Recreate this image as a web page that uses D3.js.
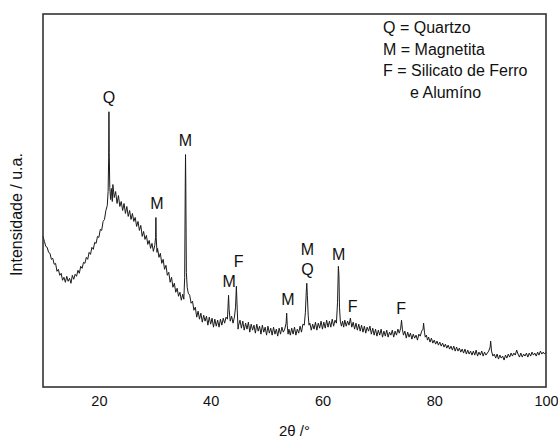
<!DOCTYPE html>
<html>
<head>
<meta charset="utf-8">
<script src="https://cdn.jsdelivr.net/npm/d3@7"></script>
<style>
  body { margin: 0; background: #fff; }
  text { font-family: "Liberation Sans", Arial, sans-serif; fill: #111; }
</style>
</head>
<body>
<div id="chart-area"></div>
<script>
// diffractogram: [2theta, intensity (a.u.)]
const scan = [
  [10.00, 151], [10.25, 146], [10.50, 141], [10.75, 140], [11.00, 135], [11.25, 134],
  [11.50, 128], [11.75, 129], [12.00, 123], [12.25, 124], [12.50, 116], [12.75, 118],
  [13.00, 112], [13.25, 114], [13.50, 107], [13.75, 110], [14.00, 105], [14.25, 111],
  [14.50, 106], [14.75, 109], [15.00, 104], [15.25, 112], [15.50, 108], [15.75, 113],
  [16.00, 111], [16.25, 117], [16.50, 114], [16.75, 121], [17.00, 119], [17.25, 125],
  [17.50, 124], [17.75, 130], [18.00, 128], [18.25, 135], [18.50, 133], [18.75, 140],
  [19.00, 138], [19.25, 145], [19.50, 144], [19.75, 151], [20.00, 150], [20.25, 158],
  [20.50, 157], [20.75, 166], [21.00, 168], [21.25, 177], [21.50, 182], [21.65, 196],
  [21.75, 230], [21.80, 276], [21.85, 235], [21.95, 200], [22.10, 188], [22.25, 199],
  [22.40, 186], [22.50, 203], [22.75, 190], [23.00, 196], [23.25, 184], [23.50, 192],
  [23.75, 181], [24.00, 186], [24.25, 177], [24.50, 184], [24.75, 174], [25.00, 181],
  [25.25, 171], [25.50, 177], [25.75, 168], [26.00, 174], [26.25, 166], [26.50, 170],
  [26.75, 161], [27.00, 166], [27.25, 157], [27.50, 162], [27.75, 151], [28.00, 156],
  [28.25, 148], [28.50, 152], [28.75, 143], [29.00, 147], [29.25, 139], [29.50, 144],
  [29.75, 136], [30.00, 142], [30.15, 150], [30.20, 170], [30.25, 150], [30.40, 135],
  [30.50, 139], [30.75, 130], [31.00, 134], [31.25, 124], [31.50, 128], [31.75, 118],
  [32.00, 122], [32.25, 112], [32.50, 115], [32.75, 105], [33.00, 110], [33.25, 100],
  [33.50, 104], [33.75, 95], [34.00, 99], [34.25, 91], [34.50, 95], [34.75, 87],
  [35.00, 93], [35.20, 88], [35.35, 110], [35.45, 200], [35.50, 233], [35.55, 205],
  [35.65, 115], [35.80, 100], [36.00, 94], [36.25, 92], [36.50, 84], [36.75, 86],
  [37.00, 77], [37.25, 80], [37.50, 70], [37.75, 76], [38.00, 68], [38.25, 74],
  [38.50, 65], [38.75, 72], [39.00, 66], [39.25, 71], [39.50, 62], [39.75, 70],
  [40.00, 63], [40.25, 69], [40.50, 60], [40.75, 68], [41.00, 61], [41.25, 67],
  [41.50, 60], [41.75, 68], [42.00, 62], [42.25, 69], [42.50, 64], [42.75, 70],
  [43.00, 68], [43.10, 80], [43.20, 92], [43.30, 78], [43.50, 66], [43.75, 71],
  [44.00, 64], [44.25, 70], [44.45, 80], [44.60, 101], [44.75, 78], [44.90, 58],
  [45.00, 62], [45.25, 67], [45.50, 59], [45.75, 66], [46.00, 57], [46.25, 64],
  [46.50, 58], [46.75, 65], [47.00, 55], [47.25, 63], [47.50, 57], [47.75, 62],
  [48.00, 54], [48.25, 63], [48.50, 56], [48.75, 61], [49.00, 53], [49.25, 62],
  [49.50, 55], [49.75, 60], [50.00, 52], [50.25, 61], [50.50, 54], [50.75, 59],
  [51.00, 52], [51.25, 60], [51.50, 53], [51.75, 58], [52.00, 51], [52.25, 59],
  [52.50, 53], [52.75, 60], [53.00, 55], [53.25, 58], [53.50, 64], [53.60, 74],
  [53.70, 62], [53.85, 53], [54.00, 58], [54.25, 52], [54.50, 59], [54.75, 53],
  [55.00, 60], [55.25, 52], [55.50, 58], [55.75, 54], [56.00, 61], [56.25, 55],
  [56.50, 63], [56.75, 62], [56.95, 75], [57.10, 95], [57.20, 104], [57.30, 92],
  [57.45, 72], [57.60, 62], [57.75, 64], [58.00, 57], [58.25, 63], [58.50, 58],
  [58.75, 65], [59.00, 57], [59.25, 64], [59.50, 59], [59.75, 66], [60.00, 58],
  [60.25, 65], [60.50, 59], [60.75, 67], [61.00, 60], [61.25, 66], [61.50, 60],
  [61.75, 68], [62.00, 61], [62.25, 67], [62.50, 64], [62.70, 85], [62.85, 121],
  [62.95, 112], [63.05, 80], [63.20, 66], [63.40, 61], [63.60, 66], [63.80, 60],
  [64.00, 67], [64.25, 61], [64.50, 66], [64.75, 62], [65.00, 69], [65.25, 60],
  [65.50, 65], [65.75, 58], [66.00, 64], [66.25, 57], [66.50, 63], [66.75, 56],
  [67.00, 62], [67.25, 55], [67.50, 61], [67.75, 54], [68.00, 60], [68.25, 56],
  [68.50, 61], [68.75, 53], [69.00, 59], [69.25, 52], [69.50, 58], [69.75, 51],
  [70.00, 57], [70.25, 52], [70.50, 58], [70.75, 50], [71.00, 56], [71.25, 51],
  [71.50, 57], [71.75, 50], [72.00, 55], [72.25, 52], [72.50, 57], [72.75, 50],
  [73.00, 56], [73.25, 52], [73.50, 58], [73.75, 54], [74.00, 59], [74.15, 67],
  [74.30, 58], [74.50, 52], [74.75, 56], [75.00, 49], [75.25, 55], [75.50, 50],
  [75.75, 54], [76.00, 48], [76.25, 53], [76.50, 49], [76.75, 52], [77.00, 47],
  [77.25, 53], [77.50, 51], [77.75, 56], [78.00, 58], [78.10, 64], [78.25, 55],
  [78.40, 50], [78.60, 52], [78.80, 47], [79.00, 50], [79.25, 45], [79.50, 49],
  [79.75, 44], [80.00, 47], [80.25, 43], [80.50, 46], [80.75, 42], [81.00, 45],
  [81.25, 41], [81.50, 44], [81.75, 40], [82.00, 43], [82.25, 39], [82.50, 42],
  [82.75, 38], [83.00, 41], [83.25, 37], [83.50, 41], [83.75, 36], [84.00, 40],
  [84.25, 36], [84.50, 39], [84.75, 35], [85.00, 38], [85.25, 34], [85.50, 38],
  [85.75, 33], [86.00, 37], [86.25, 33], [86.50, 36], [86.75, 32], [87.00, 36],
  [87.25, 32], [87.50, 37], [87.75, 31], [88.00, 35], [88.25, 32], [88.50, 36],
  [88.75, 31], [89.00, 35], [89.25, 32], [89.50, 34], [89.75, 36], [90.00, 40],
  [90.10, 46], [90.25, 36], [90.50, 31], [90.75, 33], [91.00, 29], [91.25, 33],
  [91.50, 28], [91.75, 32], [92.00, 29], [92.25, 31], [92.50, 27], [92.75, 32],
  [93.00, 29], [93.25, 33], [93.50, 30], [93.75, 34], [94.00, 31], [94.25, 34],
  [94.50, 32], [94.75, 37], [95.00, 33], [95.25, 30], [95.50, 34], [95.75, 30],
  [96.00, 33], [96.25, 31], [96.50, 34], [96.75, 30], [97.00, 34], [97.25, 31],
  [97.50, 35], [97.75, 32], [98.00, 34], [98.25, 31], [98.50, 35], [98.75, 32],
  [99.00, 36], [99.25, 33], [99.50, 35], [99.75, 33], [100.00, 35]
];

// phase labels: text, 2theta, height (a.u.) of the label centre
const peakLabels = [
  ['Q', 21.8, 291],
  ['M', 35.5, 247],
  ['M', 30.4, 184],
  ['M', 43.3, 106],
  ['F', 45.0, 126],
  ['M', 53.8, 88],
  ['M', 57.3, 138],
  ['Q', 57.3, 118],
  ['M', 62.9, 133],
  ['F', 65.4, 81],
  ['F', 74.1, 79]
];

const legendLines = ['Q = Quartzo', 'M = Magnetita', 'F = Silicato de Ferro', 'e Alumíno'];
const xTicks = [20, 40, 60, 80, 100];

const W = 558, H = 439;
const margin = { left: 43, right: 12, top: 14, bottom: 52 };
const width = W - margin.left - margin.right;
const height = H - margin.top - margin.bottom;

const svg = d3.select('#chart-area')
  .append('svg')
  .attr('width', W)
  .attr('height', H);

const g = svg.append('g')
  .attr('transform', 'translate(' + margin.left + ',' + margin.top + ')');

const x = d3.scaleLinear().domain([10, 100]).range([0, width]);
const y = d3.scaleLinear().domain([0, 374]).range([height, 0]);

// the scan itself
const line = d3.line()
  .x(d => x(d[0]))
  .y(d => y(d[1]));

g.append('path')
  .datum(scan)
  .attr('fill', 'none')
  .attr('stroke', '#1a1a1a')
  .attr('stroke-width', 1)
  .attr('stroke-linejoin', 'round')
  .attr('d', line);

// frame
g.append('rect')
  .attr('x', 0)
  .attr('y', 0)
  .attr('width', width)
  .attr('height', height)
  .attr('fill', 'none')
  .attr('stroke', '#333')
  .attr('stroke-width', 1.6);

// x tick labels only, no tick marks
const xAxis = g.append('g')
  .attr('transform', 'translate(0,' + height + ')')
  .call(d3.axisBottom(x).tickValues(xTicks).tickSize(0).tickPadding(9));
xAxis.select('.domain').remove();
xAxis.selectAll('text')
  .style('font-family', '"Liberation Sans", Arial, sans-serif')
  .style('font-size', '14.5px')
  .attr('fill', '#111');

// axis titles
g.append('text')
  .attr('x', width / 2)
  .attr('y', height + 49)
  .attr('text-anchor', 'middle')
  .attr('font-size', '15px')
  .text('2θ /°');

g.append('text')
  .attr('transform', 'rotate(-90)')
  .attr('x', -(height / 2) - 14)
  .attr('y', -21)
  .attr('text-anchor', 'middle')
  .attr('font-size', '16px')
  .text('Intensidade / u.a.');

// peak labels
g.selectAll('.peak-label')
  .data(peakLabels)
  .enter()
  .append('text')
  .attr('class', 'peak-label')
  .attr('x', d => x(d[1]))
  .attr('y', d => y(d[2]))
  .attr('dy', '0.36em')
  .attr('text-anchor', 'middle')
  .attr('font-size', '16px')
  .text(d => d[0]);

// legend
g.selectAll('.legend-line')
  .data(legendLines)
  .enter()
  .append('text')
  .attr('class', 'legend-line')
  .attr('x', (d, i) => i === 3 ? 383 - margin.left + 27 : 383 - margin.left)
  .attr('y', (d, i) => 33 - margin.top + i * 21.7)
  .attr('font-size', '16px')
  .text(d => d);
</script>
</body>
</html>
